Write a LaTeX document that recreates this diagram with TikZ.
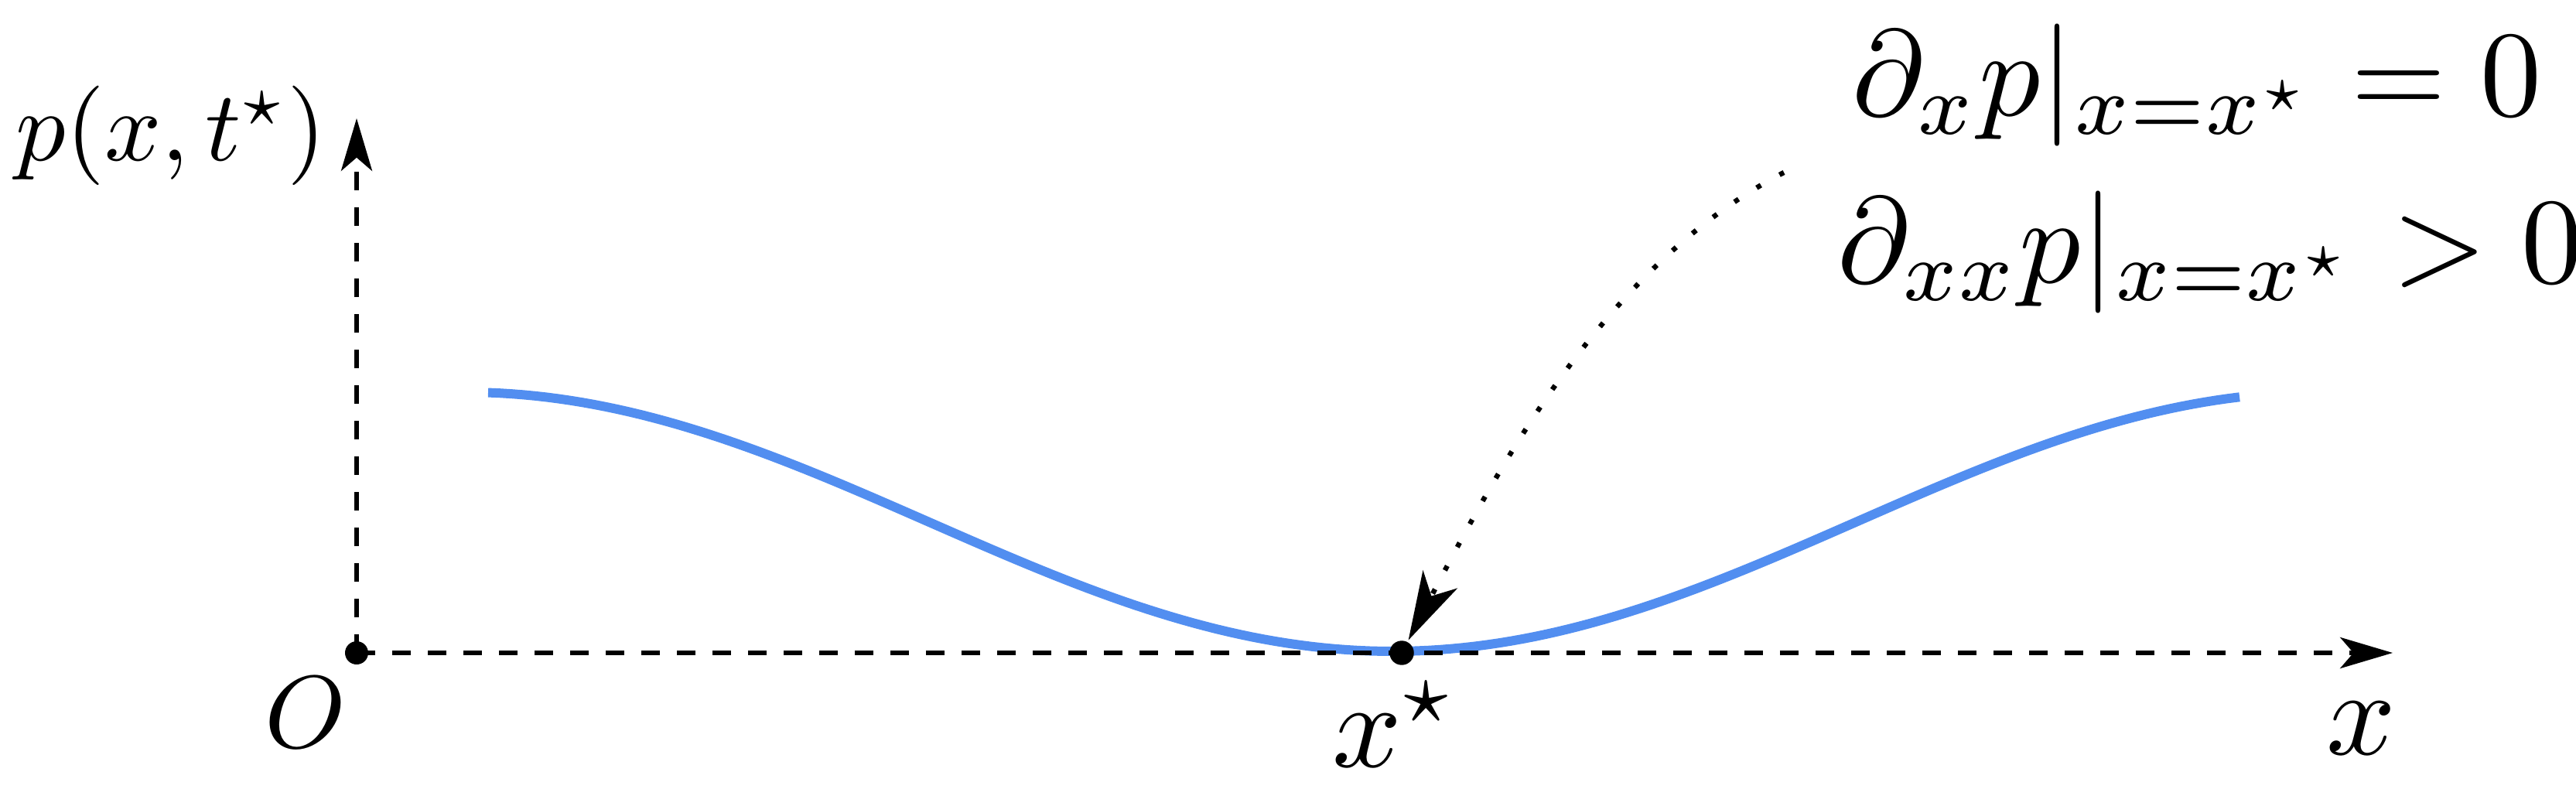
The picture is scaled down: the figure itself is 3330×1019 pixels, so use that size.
\documentclass[tikz,border=0pt]{standalone}
\usepackage{graphicx}
\usetikzlibrary{arrows.meta}
\definecolor{curveblue}{RGB}{82,142,240}
\begin{document}
\begin{tikzpicture}[x=0.07pt,y=-0.07pt,
  axis/.style={line width=0.42pt, dash pattern=on 1.68pt off 1.54pt,
    -{Stealth[length=4.75pt,width=2.8pt,inset=1.2pt]}},
  dotnode/.style={circle, fill=black, inner sep=0pt, minimum size=2.2pt},
  curve/.style={curveblue, line width=0.84pt},
  pointer/.style={line width=0.45pt, dash pattern=on 0.45pt off 1.93pt,
    -{Stealth[length=6.2pt,width=3.5pt,inset=1.7pt]}},
  lab/.style={inner sep=0pt, anchor=base},
  eq/.style={inner sep=0pt, anchor=base west}]
\useasboundingbox (0,0) rectangle (3330,1019);
% curve (drawn first, axes on top)
\draw[curve] plot[domain=631:2895, samples=150]
  (\x, {842 - 167.5*(1 - cos(0.15*(\x - 1800)))});
% points
\coordinate (Oc) at (461,844);
\coordinate (xend) at (3093,844);
\coordinate (yend) at (461,153);
\coordinate (src) at (2306,223);
% axes
\draw[axis] (Oc) -- (xend);
\draw[axis] (Oc) -- (yend);
\node[dotnode, minimum size=2.1pt] (O) at (Oc) {};
\node[dotnode] (xstar) at (1812,844) {};
% pointer
\draw[pointer] (src) .. controls (2076,342) and (1940,599) .. (xstar);
% labels
\node[lab] (plab) at (221,208) {\scalebox{0.9}{$p(x,t^\star)$}};
\node[lab] (Olab) at (395,966) {\scalebox{0.93}{$O$}};
\node[lab] (xlab) at (3052,975) {\scalebox{1.1}{$x$}};
\node[lab] (xslab) at (1803,991) {\scalebox{1.1}{$x^\star$}};
\node[eq] (eq1) at (2392,150) {\scalebox{1.106}{$\partial_x p|_{x=x^\star} = 0$}};
\node[eq] (eq2) at (2373,365) {\scalebox{1.106}{$\partial_{xx} p|_{x=x^\star} > 0$}};
\end{tikzpicture}
\end{document}
